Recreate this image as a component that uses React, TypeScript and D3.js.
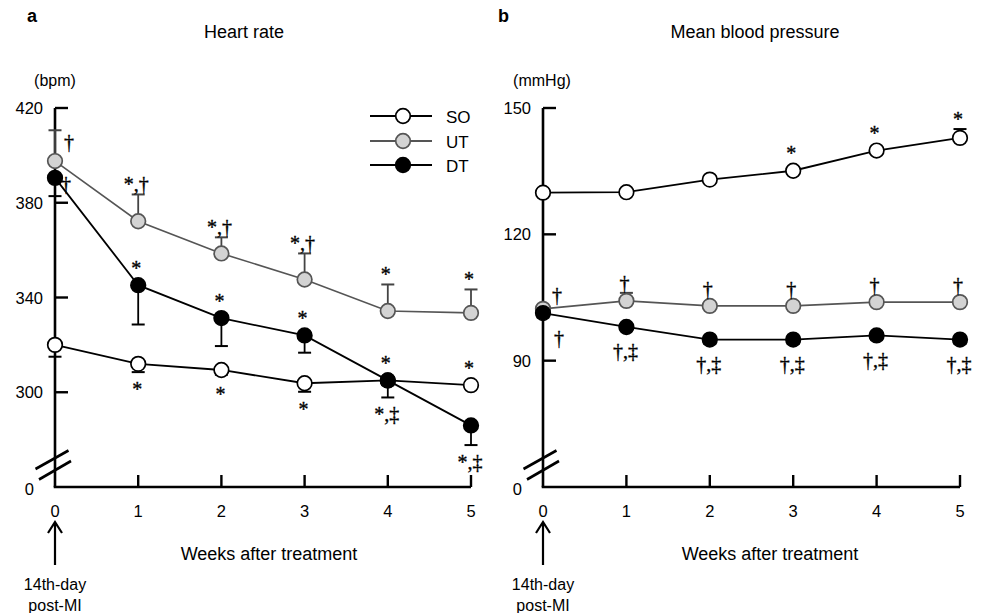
import React from 'react';
import * as d3 from 'd3';

// weeks after treatment (0 = 14th day post-MI)
const weeks = [0, 1, 2, 3, 4, 5];
const seriesNames = ['SO', 'UT', 'DT'];

// heart rate (bpm), mean and one-sided error
const hrSO = [320, 312, 309.4, 303.8, 305, 303];
const hrSOErr = [5, 3.5, 2, 3.6, 2, 1.5];
const hrUT = [397.6, 372.2, 358.6, 347.6, 334.3, 333.5];
const hrUTErr = [13, 11.3, 6.8, 11, 11.2, 9.9];
const hrDT = [390.5, 345.2, 331.3, 324, 305, 286];
const hrDTErr = [7.7, 16.6, 11.8, 7.3, 7.2, 8.3];
const hrTicks = [300, 340, 380, 420];

// mean blood pressure (mmHg)
const bpSO = [129.9, 130, 133, 135.1, 139.9, 142.9];
const bpSOErr = [0.8, 0.8, 0.8, 0.8, 0.8, 2.1];
const bpUT = [102.3, 104.2, 103, 103, 103.9, 103.9];
const bpUTErr = [0.8, 1.9, 0.8, 0.8, 0.8, 0.8];
const bpDT = [101.3, 98, 95, 95, 96, 95];
const bpDTErr = [1, 0.8, 1, 1, 1, 1];
const bpTicks = [90, 120, 150];

// significance marks: series index, week, text, placement
const hrMarks = [
  { s: 1, w: 0, t: '†', at: 'upperRight' },
  { s: 2, w: 0, t: '†', at: 'right' },
  { s: 1, w: 1, t: '*,†', at: 'above' },
  { s: 1, w: 2, t: '*,†', at: 'above' },
  { s: 1, w: 3, t: '*,†', at: 'above' },
  { s: 1, w: 4, t: '*', at: 'above' },
  { s: 1, w: 5, t: '*', at: 'above' },
  { s: 2, w: 1, t: '*', at: 'above' },
  { s: 2, w: 2, t: '*', at: 'above' },
  { s: 2, w: 3, t: '*', at: 'above' },
  { s: 2, w: 4, t: '*,‡', at: 'below' },
  { s: 2, w: 5, t: '*,‡', at: 'below' },
  { s: 0, w: 1, t: '*', at: 'below' },
  { s: 0, w: 2, t: '*', at: 'below' },
  { s: 0, w: 3, t: '*', at: 'below' },
  { s: 0, w: 4, t: '*', at: 'above' },
  { s: 0, w: 5, t: '*', at: 'above' },
];
const bpMarks = [
  { s: 1, w: 0, t: '†', at: 'upperRightB' },
  { s: 2, w: 0, t: '†', at: 'lowerRight' },
  { s: 1, w: 1, t: '†', at: 'above' },
  { s: 1, w: 2, t: '†', at: 'above' },
  { s: 1, w: 3, t: '†', at: 'above' },
  { s: 1, w: 4, t: '†', at: 'above' },
  { s: 1, w: 5, t: '†', at: 'above' },
  { s: 2, w: 1, t: '†,‡', at: 'below' },
  { s: 2, w: 2, t: '†,‡', at: 'below' },
  { s: 2, w: 3, t: '†,‡', at: 'below' },
  { s: 2, w: 4, t: '†,‡', at: 'below' },
  { s: 2, w: 5, t: '†,‡', at: 'below' },
  { s: 0, w: 3, t: '*', at: 'above' },
  { s: 0, w: 4, t: '*', at: 'above' },
  { s: 0, w: 5, t: '*', at: 'above' },
];

const SANS = '"Liberation Sans", Arial, sans-serif';
const SERIF = '"Liberation Serif", "Times New Roman", serif';
const R = 7.3;

const styles = [
  { line: '#000', width: 1.8, fill: '#fff', stroke: '#000' },
  { line: '#555', width: 1.6, fill: '#d3d3d3', stroke: '#555' },
  { line: '#000', width: 1.8, fill: '#000', stroke: '#000' },
];

type Panel = {
  letter: string; letterX: number; title: string; unit: string; titleX: number; unitX: number; labelX: number;
  x0: number; x1: number; domain: [number, number]; ticks: number[];
  values: number[][]; errs: number[][]; dirs: number[]; marks: typeof hrMarks; legend: boolean;
};

// dirs: error bar direction per series, +1 up, -1 down
const panels: Panel[] = [
  {
    letter: 'a', letterX: 27, title: 'Heart rate', unit: '(bpm)', titleX: 244, unitX: 55, labelX: 269,
    x0: 55, x1: 471, domain: [260, 420], ticks: hrTicks,
    values: [hrSO, hrUT, hrDT], errs: [hrSOErr, hrUTErr, hrDTErr], dirs: [-1, 1, -1],
    marks: hrMarks, legend: true,
  },
  {
    letter: 'b', letterX: 498, title: 'Mean blood pressure', unit: '(mmHg)', titleX: 755, unitX: 542, labelX: 770,
    x0: 543, x1: 960, domain: [60, 150], ticks: bpTicks,
    values: [bpSO, bpUT, bpDT], errs: [bpSOErr, bpUTErr, bpDTErr], dirs: [1, 1, -1],
    marks: bpMarks, legend: false,
  },
];

const TOP = 108;
const BASE = 487;

function PanelView({ p }: { p: Panel }) {
  const x = d3.scaleLinear().domain([0, 5]).range([p.x0, p.x1]);
  const y = d3.scaleLinear().domain(p.domain).range([BASE, TOP]);
  const line = d3.line<number>().x((_, i) => x(weeks[i])).y(v => y(v));

  const markPos = (m: { s: number; w: number; at: string }) => {
    const v = p.values[m.s][m.w];
    const e = p.errs[m.s][m.w];
    const d = p.dirs[m.s];
    const px = x(m.w);
    const py = y(v);
    const errEnd = y(v + d * e);
    switch (m.at) {
      case 'above': return { x: px - 2, y: Math.min(py - R, errEnd) - 3 };
      case 'below': return { x: px - 1, y: Math.max(py + R, errEnd) + 24 };
      case 'upperRight': return { x: px + 14, y: py - 12 };
      case 'upperRightB': return { x: px + 14, y: py - 7 };
      case 'right': return { x: px + 11, y: py + 13 };
      case 'lowerRight': return { x: px + 16, y: py + 32 };
      default: return { x: px, y: py };
    }
  };

  return (
    <g>
      <text x={p.letterX} y={22} fontFamily={SANS} fontWeight="bold" fontSize={18}>{p.letter}</text>
      <text x={p.titleX} y={38} fontFamily={SANS} fontSize={18} textAnchor="middle">{p.title}</text>
      <text x={p.unitX} y={86} fontFamily={SANS} fontSize={16} textAnchor="middle">{p.unit}</text>

      {/* y axis */}
      <line x1={p.x0} x2={p.x0} y1={TOP} y2={BASE} stroke="#000" strokeWidth={2.6} />
      {p.ticks.map(t => (
        <g key={t}>
          <line x1={p.x0} x2={p.x0 + 13} y1={y(t)} y2={y(t)} stroke="#000" strokeWidth={2.4} />
          <text x={p.x0 - 12} y={y(t) + 6} fontFamily={SANS} fontSize={16.5} textAnchor="end">{t}</text>
        </g>
      ))}
      <text x={p.x0 - 21} y={BASE + 8} fontFamily={SANS} fontSize={16.5} textAnchor="end">0</text>
      {/* axis break */}
      <line x1={p.x0 - 19.5} y1={469} x2={p.x0 + 13.5} y2={450.5} stroke="#000" strokeWidth={2.6} />
      <line x1={p.x0 - 16} y1={479.5} x2={p.x0 + 16} y2={461} stroke="#000" strokeWidth={2.6} />

      {/* x axis */}
      <line x1={p.x0 - 1.3} x2={p.x1} y1={BASE} y2={BASE} stroke="#000" strokeWidth={2.6} />
      {weeks.map(w => (
        <g key={w}>
          {w > 0 && <line x1={x(w)} x2={x(w)} y1={BASE} y2={BASE - 12} stroke="#000" strokeWidth={2.4} />}
          <text x={x(w)} y={517} fontFamily={SANS} fontSize={16.5} textAnchor="middle">{w}</text>
        </g>
      ))}
      <text x={p.labelX} y={560} fontFamily={SANS} fontSize={18} textAnchor="middle">Weeks after treatment</text>
      <path d={`M${p.x0},565V523M${p.x0 - 7},533L${p.x0},522L${p.x0 + 7},533`} fill="none" stroke="#000" strokeWidth={2.2} />
      <text x={p.x0} y={590} fontFamily={SANS} fontSize={16} textAnchor="middle">14th-day</text>
      <text x={p.x0} y={611} fontFamily={SANS} fontSize={16} textAnchor="middle">post-MI</text>

      {/* series lines */}
      {[1, 0, 2].map(s => (
        <path key={s} d={line(p.values[s]) || ''} fill="none" stroke={styles[s].line} strokeWidth={styles[s].width} />
      ))}
      {/* error bars */}
      {[1, 0, 2].map(s =>
        p.values[s].map((v, i) => {
          const ye = y(v + p.dirs[s] * p.errs[s][i]);
          const c = s === 1 ? '#444' : '#000';
          return (
            <g key={`${s}-${i}`}>
              <line x1={x(i)} x2={x(i)} y1={y(v)} y2={ye} stroke={c} strokeWidth={1.8} />
              <line x1={x(i) - 6.5} x2={x(i) + 6.5} y1={ye} y2={ye} stroke={c} strokeWidth={2} />
            </g>
          );
        })
      )}
      {/* markers */}
      {[0, 1, 2].map(s =>
        p.values[s].map((v, i) => (
          <circle key={`${s}-${i}`} cx={x(i)} cy={y(v)} r={R} fill={styles[s].fill} stroke={styles[s].stroke} strokeWidth={1.7} />
        ))
      )}
      {/* significance marks */}
      {p.marks.map((m, i) => {
        const pos = markPos(m);
        return (
          <text key={i} x={pos.x} y={pos.y} fill="#000" stroke="#000" strokeWidth={0.35}
            fontFamily={SERIF} fontSize={20} textAnchor="middle">{m.t}</text>
        );
      })}

      {p.legend && seriesNames.map((n, s) => {
        const ly = [116, 141, 165][s];
        return (
          <g key={n}>
            <line x1={370} x2={432} y1={ly} y2={ly} stroke={styles[s].line} strokeWidth={2} />
            <circle cx={403} cy={ly} r={R} fill={styles[s].fill} stroke={styles[s].stroke} strokeWidth={1.7} />
            <text x={446} y={ly + 6.5} fontFamily={SANS} fontSize={17}>{n}</text>
          </g>
        );
      })}
    </g>
  );
}

export default function App() {
  return (
    <svg width={981} height={613} style={{ position: 'absolute', left: 0, top: 0, background: '#fff' }}>
      {panels.map(p => <PanelView key={p.letter} p={p} />)}
    </svg>
  );
}
